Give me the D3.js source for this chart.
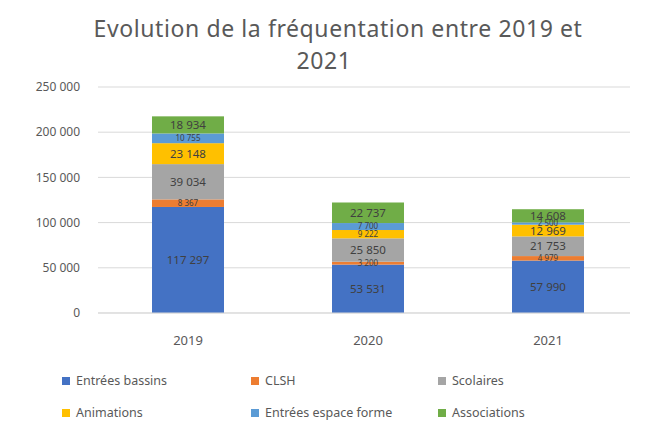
<!DOCTYPE html>
<html>
<head>
<meta charset="utf-8">
<script src="https://cdn.jsdelivr.net/npm/d3@7"></script>
<style>
  body { margin: 0; background: #fff; }
  svg text { font-family: "Noto Sans", "Open Sans", sans-serif; }
</style>
</head>
<body>
<div id="chart"></div>
<script>
// chart data
const years = ['2019', '2020', '2021'];
const seriesNames = ['Entrées bassins', 'CLSH', 'Scolaires', 'Animations', 'Entrées espace forme', 'Associations'];
const entreesBassins = [117297, 53531, 57990];
const clsh = [8367, 3200, 4979];
const scolaires = [39034, 25850, 21753];
const animations = [23148, 9222, 12969];
const espaceForme = [10755, 7700, 2500];
const associations = [18934, 22737, 14608];
const yTicks = [0, 50000, 100000, 150000, 200000, 250000];
const colors = ['#4472C4', '#ED7D31', '#A5A5A5', '#FFC000', '#5B9BD5', '#70AD47'];

const W = 645;
const H = 425;
const margins = { left: 98, right: 7, top: 87, bottom: 112 };

const svg = d3.select('#chart').append('svg').attr('width', W).attr('height', H);

// title
const title = svg.append('text').attr('text-anchor', 'middle').attr('fill', '#595959')
  .style('font-size', '23px').style('letter-spacing', '0.6px');
title.append('tspan').attr('x', 338).attr('y', 37).text('Evolution de la fréquentation entre 2019 et');
title.append('tspan').attr('x', 324).attr('y', 69).text('2021');

const rows = years.map((y, i) => ({
  year: y,
  'Entrées bassins': entreesBassins[i],
  'CLSH': clsh[i],
  'Scolaires': scolaires[i],
  'Animations': animations[i],
  'Entrées espace forme': espaceForme[i],
  'Associations': associations[i],
}));
const stacked = d3.stack().keys(seriesNames)(rows);

const x = d3.scaleBand().domain(years).range([margins.left, W - margins.right]).paddingInner(0.6).paddingOuter(0.3);
const y = d3.scaleLinear().domain([0, 250000]).range([H - margins.bottom, margins.top]);
const fmt = (v) => d3.format(',')(v).replace(/,/g, ' ');

// gridlines + y labels
const grid = svg.append('g');
grid.selectAll('line').data(yTicks).join('line')
  .attr('x1', margins.left).attr('x2', W - margins.right - 8)
  .attr('y1', (d) => y(d)).attr('y2', (d) => y(d))
  .attr('stroke', '#d9d9d9').attr('stroke-width', 1);
grid.selectAll('text').data(yTicks).join('text')
  .attr('x', 80).attr('y', (d) => y(d)).attr('dy', '0.35em')
  .attr('text-anchor', 'end').attr('fill', '#595959').style('font-size', '12px')
  .text((d) => fmt(d));

// bars
const layers = svg.append('g').selectAll('g').data(stacked).join('g').attr('fill', (d, i) => colors[i]);
layers.selectAll('rect').data((d) => d).join('rect')
  .attr('x', (d) => x(d.data.year))
  .attr('width', x.bandwidth())
  .attr('y', (d) => y(d[1]))
  .attr('height', (d) => y(d[0]) - y(d[1]));

// data labels (small segments get a smaller font, like the crowded originals)
const labels = svg.append('g').selectAll('g').data(stacked).join('g');
labels.selectAll('text').data((d) => d.map((v) => ({ v, key: d.key }))).join('text')
  .attr('x', (d) => x(d.v.data.year) + x.bandwidth() / 2)
  .attr('y', (d) => (y(d.v[0]) + y(d.v[1])) / 2)
  .attr('dy', '0.35em')
  .attr('text-anchor', 'middle')
  .attr('fill', '#404040')
  .style('font-size', (d) => (y(d.v[0]) - y(d.v[1]) < 10 ? '8px' : '11.5px'))
  .text((d) => fmt(d.v.data[d.key]));

// x axis
svg.append('line').attr('x1', margins.left).attr('x2', W - margins.right - 8)
  .attr('y1', y(0)).attr('y2', y(0)).attr('stroke', '#d9d9d9');
svg.append('g').selectAll('text').data(years).join('text')
  .attr('x', (d) => x(d) + x.bandwidth() / 2).attr('y', 345)
  .attr('text-anchor', 'middle').attr('fill', '#595959').style('font-size', '13px')
  .text((d) => d);

// legend
const legendPos = [[66, 381], [255, 381], [442, 381], [66, 413], [255, 413], [442, 413]];
const legend = svg.append('g').selectAll('g').data(seriesNames).join('g')
  .attr('transform', (d, i) => `translate(${legendPos[i][0]}, ${legendPos[i][1]})`);
legend.append('rect').attr('x', -4).attr('y', -4).attr('width', 8).attr('height', 8).attr('fill', (d, i) => colors[i]);
legend.append('text').attr('x', 10).attr('dy', '0.35em').attr('fill', '#595959').style('font-size', '12.5px').text((d) => d);
</script>
</body>
</html>
